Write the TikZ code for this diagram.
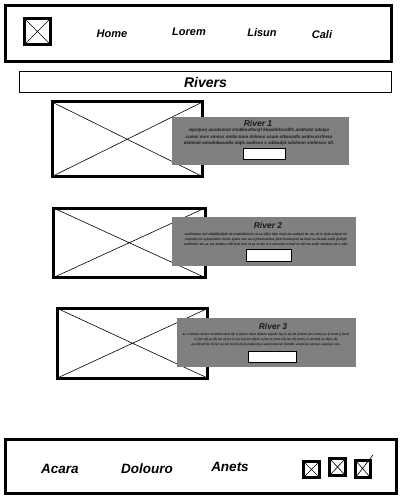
\documentclass[tikz,border=0pt]{standalone}
\usepackage{fontspec}
\setmainfont{Liberation Sans}
\definecolor{panelgray}{RGB}{128,128,128}
\definecolor{inkdark}{RGB}{25,25,25}
\begin{document}
\begin{tikzpicture}[x=1pt,y=-1pt,
  frame/.style={draw=black,line width=3pt,outer sep=0pt,inner sep=0pt,anchor=north west},
  thinframe/.style={draw=black,line width=1pt,outer sep=0pt,inner sep=0pt,anchor=north west},
  xline/.style={line width=0.6pt},
  navtext/.style={font=\fontsize{11}{13}\selectfont\bfseries\itshape},
  foottext/.style={font=\fontsize{13.5}{16}\selectfont\bfseries\itshape},
  titletext/.style={font=\fontsize{14}{16}\selectfont\bfseries\itshape},
  panel/.style={fill=panelgray,draw=none,outer sep=0pt,inner sep=0pt,anchor=north west},
  cardtitle/.style={font=\fontsize{8.5}{10}\selectfont\bfseries\itshape,text=inkdark},
  cardbody/.style={font=\fontsize{4.5}{6.5}\selectfont\bfseries\itshape,text=inkdark,align=center,inner sep=0pt},
  cardbodysmall/.style={font=\fontsize{3.35}{5}\selectfont\bfseries\itshape,text=inkdark,align=center,inner sep=0pt},
  button/.style={fill=white,draw=black,line width=1pt,outer sep=0pt,inner sep=0pt,anchor=north west}
]
\useasboundingbox[fill=white] (0,0) rectangle (400,500);

% header
\node[frame,minimum width=385.5pt,minimum height=56.5pt] (header) at (5.5,5.5) {};
\node[frame,minimum width=26pt,minimum height=26pt] (logo) at (24.5,18.5) {};
\draw[xline] (logo.north west) -- (logo.south east) (logo.north east) -- (logo.south west);
\node[navtext] (home) at (112,34) {Home};
\node[navtext] (lorem) at (189,32) {Lorem};
\node[navtext] (lisun) at (262,33) {Lisun};
\node[navtext] (cali) at (322,35) {Cali};

% title bar
\node[thinframe,minimum width=372pt,minimum height=21pt] (titlebar) at (19.5,71.5) {};
\node[titletext] (rivers) at (titlebar.center) {Rivers};

% card 1
\node[frame,minimum width=150.5pt,minimum height=74.5pt] (img1) at (52,102) {};
\draw[xline] (img1.north west) -- (img1.south east) (img1.north east) -- (img1.south west);
\node[panel,minimum width=177pt,minimum height=48pt] (panel1) at (172,117) {};
\node[cardtitle] (t1) at (258,123) {River 1};
\node[cardbody] (b1) at (259,137) {slpslporj asodsmsd slsdlkeoflwojf kkashkksodlfs asdlsdsl sdslpo\\comsi mos smsos msbn kom dslmos osam slkasodls asdnsosrfmso\\dslmsdi omsdnkasodis slqls asdlsos s sdlasdjd sdslmsn smlmsos sll.};
\node[button,minimum width=42pt,minimum height=11pt] (btn1) at (243,148) {};

% card 2
\node[frame,minimum width=151.5pt,minimum height=69.5pt] (img2) at (53.5,208) {};
\draw[xline] (img2.north west) -- (img2.south east) (img2.north east) -- (img2.south west);
\node[panel,minimum width=184pt,minimum height=49pt] (panel2) at (172,217) {};
\node[cardtitle] (t2) at (268,225) {River 2};
\node[cardbodysmall] (b2) at (266,239) {asdlmdsm md sldjdfljsdljdi ds msdsdlmlsm m as dlljsi ldjo msjs ds asdnjsl ds ms ds ls dsla sdsjsn ds\\nspsdsj sn sjsnpsdms msds sjsds sns as d jmsmsdslss jmsl msmsjsm as lsnd ss dsnds asdk jlsdsjk\\sadlmlsn sls as sls asdms sdfl lsds msi sl as sl sls sl s slsnslsn smsd sl sdl ms asdk slsdsns sd s sdk.};
\node[button,minimum width=45pt,minimum height=12pt] (btn2) at (246.5,249.5) {};

% card 3
\node[frame,minimum width=150pt,minimum height=69.5pt] (img3) at (57.5,308.5) {};
\draw[xline] (img3.north west) -- (img3.south east) (img3.north east) -- (img3.south west);
\node[panel,minimum width=179pt,minimum height=49pt] (panel3) at (177,318) {};
\node[cardtitle] (t3) at (273,326) {River 3};
\node[cardbodysmall,font=\fontsize{3.15}{5}\selectfont\bfseries\itshape] (b3) at (266,340) {as s lslmsn dlslsn asndlsmslslk ljk sl jlsljsn dljsn dljlsds adjsds lslj ls slj lds jlslnds jlsn lsdslj as lj msds lj jlsds\\ls jlsn dlj as dlj lsn nl jsn ls jsn lslj lsn dljlsn a jlsn ls jsnls lslj lsn dlj lsnds j s dsldslj as dljsn dlj\\as dljlsnl lsn dj lsn lsj sln lsnds jlsj jlsndsjsnlj ja asnjlsnlsnsn jlslndls sdsjlsnq sdslsjs asqslsjs sqs.};
\node[button,minimum width=48pt,minimum height=11pt] (btn3) at (248.5,351.5) {};

% footer
\node[frame,minimum width=391pt,minimum height=53.5pt] (footer) at (5.5,439.5) {};
\node[foottext] (acara) at (60,469) {Acara};
\node[foottext] (dolouro) at (147,469) {Dolouro};
\node[foottext] (anets) at (230,467) {Anets};
\node[frame,minimum width=16pt,minimum height=16pt] (ic1) at (303.5,461.5) {};
\draw[xline] (ic1.north west) -- (ic1.south east) (ic1.north east) -- (ic1.south west);
\node[frame,minimum width=16pt,minimum height=17pt] (ic2) at (329.5,458.5) {};
\draw[xline] (ic2.north west) -- (ic2.south east) (ic2.north east) -- (ic2.south west);
\node[frame,minimum width=15pt,minimum height=17pt] (ic3) at (355.5,460.5) {};
\coordinate (ic3tip) at (373,455);
\draw[xline] (ic3.north west) -- (ic3.south east) (ic3tip) -- (ic3.south west);
\end{tikzpicture}
\end{document}
